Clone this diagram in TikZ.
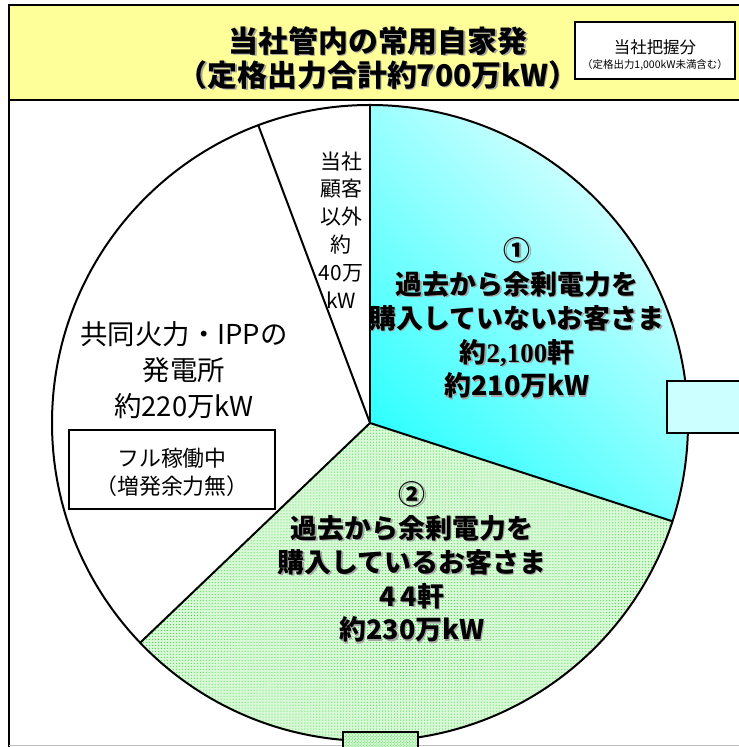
\documentclass[tikz,border=0pt]{standalone}
\usepackage{fontspec}
\setmainfont{Noto Sans CJK JP}
\newfontfamily\numserif{Liberation Serif}
\usetikzlibrary{calc,patterns}
\definecolor{titleyellow}{HTML}{FFFF99}
\definecolor{cyanlt}{HTML}{E8FFFF}
\definecolor{cyandk}{HTML}{33FFFF}
\definecolor{boxcyan}{HTML}{CCFFFF}
\definecolor{dotgreen}{HTML}{22DD22}
\definecolor{greenbg}{HTML}{D8F8D8}
\def\pieslice[#1](#2:#3){\path[#1] (370,324) -- ++(#2:318) arc (#2:#3:318) -- cycle;}
\def\shadownode[#1](#2)(#3)#4{%
  \node[#1, text=black!35] (#2-sh) at ($(#3)+(1.5,-1.5)$) {#4};
  \node[#1] (#2) at (#3) {#4};}

\begin{document}
\begin{tikzpicture}[x=1bp, y=1bp,
    bigbold/.style={align=center, inner sep=0pt, font=\fontsize{27}{34}\selectfont\bfseries},
    plain/.style={align=center, inner sep=0pt, font=\fontsize{27.5}{36}\selectfont},
    small/.style={align=center, inner sep=0pt, font=\fontsize{21}{28}\selectfont}]
		%%%%% START %%%%%
		\useasboundingbox (0,0) rectangle (739,747);
		
		% header
		\draw[line width=1.5bp, fill=titleyellow] (9,647) rectangle (760,742);
		\shadownode[align=center, inner sep=0pt, font=\fontsize{30}{34}\selectfont\bfseries](title)(378,689){当社管内の常用自家発\\（定格出力合計約700万kW）}
		\draw[line width=1.5bp, fill=white] (575,668) rectangle (735,725);
		\node[inner sep=0pt, font=\fontsize{16.5}{18}\selectfont] (share) at (655,700) {当社把握分};
		\node[inner sep=0pt, font=\fontsize{10.5}{12}\selectfont] (sharenote) at (655,682) {（定格出力1,000kW未満含む）};
		
		\draw[line width=1.5bp] (9,647) -- (9,-5);
		\draw[line width=1bp, color=black!25] (9,1) -- (760,1);
		
		% pie
		\pieslice[shade, top color=cyanlt, bottom color=cyandk, shading angle=-45](-18:90)
		\pieslice[preaction={fill=greenbg}, pattern=dots, pattern color=dotgreen](-136.29:-18)
		\draw[line width=2bp] (370,324) circle (318);
		\foreach \a in {90,110.57,223.71,-18}
			\draw[line width=2bp] (370,324) -- ++(\a:318);
		
		\draw[line width=1.5bp, fill=boxcyan] (667,314) rectangle (760,366);
		\draw[line width=1.5bp, preaction={fill=greenbg}, pattern=crosshatch dots, pattern color=dotgreen] (343,-10) rectangle (418,15);
		
		% labels
		\node[small] (other) at (341,517) {当社\\顧客\\以外\\約\\40万\\kW};
		\node[plain] (ipp) at (184,377) {共同火力・IPPの\\発電所\\約220万kW};
		\draw[line width=1.5bp] (69,238) rectangle (275,317);
		\node[inner sep=0pt, align=center, font=\fontsize{22}{28}\selectfont] (full) at (172,275) {フル稼働中\\（増発余力無）};
		\shadownode[bigbold](nobuy)(517,429){①\\過去から余剰電力を\\購入していないお客さま\\約{\numserif 2,100}軒\\約210万kW}
		\shadownode[bigbold](buy)(412,185){②\\過去から余剰電力を\\購入しているお客さま\\4\,4軒\\約230万kW}
		
		%%%%% END %%%%%
\end{tikzpicture}
\end{document}
